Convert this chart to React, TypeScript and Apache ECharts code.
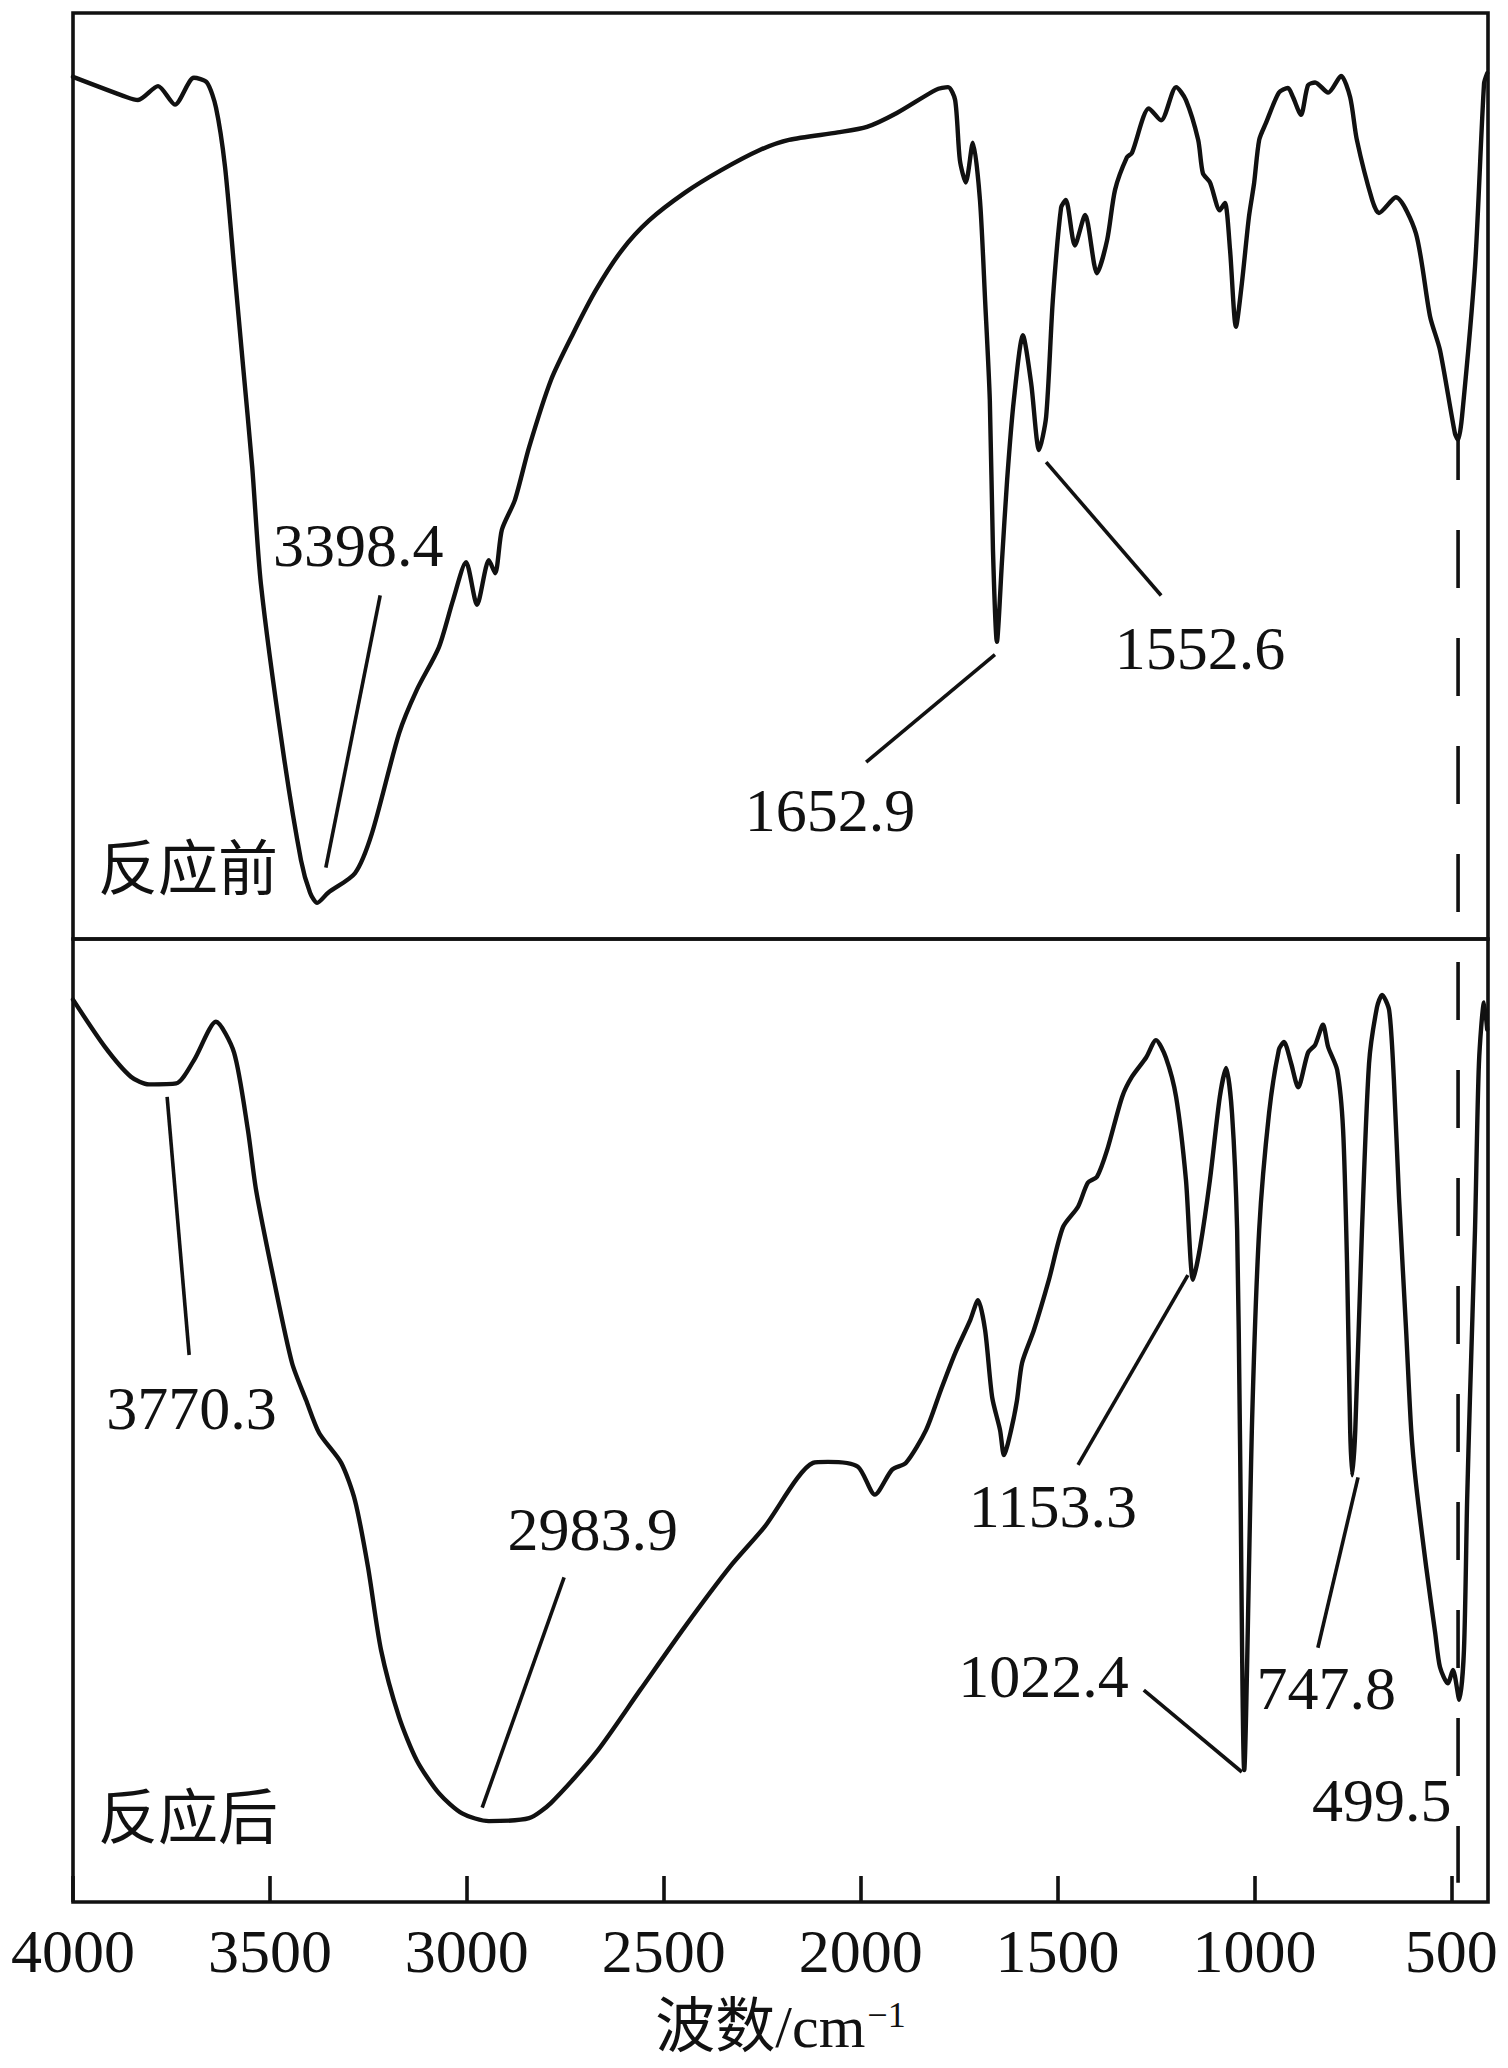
import React, { useEffect, useRef } from "react";
import * as echarts from "echarts";

// ---- axis ----
const X_TICKS = [4000, 3500, 3000, 2500, 2000, 1500, 1000, 500];
const X_MIN = 407;
const X_MAX = 4000;

// ---- 反应前 (before reaction) ----
const BEFORE_WAVENUMBER = [
  4000, 3863, 3835, 3784, 3741, 3693, 3660, 3637, 3614, 3591,
  3568, 3545, 3523, 3467, 3421, 3398, 3380, 3352, 3284, 3241,
  3172, 3127, 3071, 3035, 3002, 2974, 2944, 2928, 2911, 2878,
  2842, 2786, 2730, 2672, 2606, 2537, 2446, 2355, 2256, 2182,
  2058, 1984, 1908, 1809, 1778, 1760, 1748, 1733, 1715, 1697,
  1684, 1672, 1664, 1654, 1641, 1628, 1611, 1588, 1567, 1547,
  1529, 1512, 1491, 1479, 1456, 1430, 1400, 1374, 1354, 1324,
  1311, 1268, 1237, 1199, 1174, 1143, 1131, 1113, 1088, 1075,
  1062, 1047, 1032, 1014, 1001, 988, 971, 938, 915, 902,
  882, 864, 846, 813, 780, 757, 740, 701, 684, 641,
  590, 554, 529, 491, 483, 473, 440, 417, 409,
];
const BEFORE_TRANSMITTANCE = [
  93.1, 90.9, 90.6, 92.1, 90.1, 93.0, 92.5, 89.8, 83.4, 72.6,
  61.8, 51.0, 38.4, 20.4, 8.5, 5.0, 3.9, 5.0, 7.1, 11.4,
  22.2, 26.9, 31.5, 36.6, 40.7, 36.1, 40.9, 39.5, 44.2, 47.4,
  53.1, 60.4, 65.4, 70.1, 74.4, 77.6, 80.6, 83.0, 85.2, 86.3,
  87.1, 87.7, 89.2, 91.7, 92.0, 90.6, 84.1, 81.7, 86.0, 79.8,
  69.0, 58.2, 42.0, 32.1, 40.9, 49.6, 58.2, 65.2, 60.0, 52.8,
  56.4, 69.0, 79.0, 79.8, 74.9, 78.2, 71.9, 75.5, 80.9, 84.4,
  84.9, 89.7, 88.4, 92.0, 90.6, 86.3, 82.7, 81.7, 78.7, 79.5,
  74.4, 66.1, 70.8, 78.0, 81.6, 86.3, 88.1, 91.4, 91.9, 90.9,
  89.0, 92.2, 92.5, 91.4, 93.2, 90.9, 86.3, 79.8, 78.4, 80.1,
  76.2, 67.2, 63.6, 54.6, 53.9, 56.4, 72.6, 92.4, 93.5,
];

// ---- 反应后 (after reaction) ----
const AFTER_WAVENUMBER = [
  4000, 3919, 3853, 3807, 3738, 3693, 3637, 3591, 3556, 3535,
  3490, 3444, 3408, 3375, 3319, 3284, 3251, 3218, 3172, 3127,
  3071, 3012, 2944, 2842, 2786, 2672, 2560, 2446, 2332, 2245,
  2121, 2083, 2007, 1964, 1920, 1885, 1834, 1796, 1760, 1722,
  1702, 1684, 1666, 1646, 1636, 1618, 1603, 1590, 1560, 1522,
  1486, 1448, 1423, 1400, 1374, 1336, 1311, 1275, 1250, 1225,
  1199, 1174, 1156, 1138, 1113, 1088, 1072, 1057, 1044, 1037,
  1026, 1006, 988, 963, 938, 925, 907, 889, 864, 846,
  826, 813, 790, 775, 765, 757, 752, 744, 727, 709,
  689, 676, 658, 646, 633, 615, 602, 590, 564, 541,
  529, 509, 496, 480, 468, 460, 453, 440, 430, 417,
  409,
];
const AFTER_TRANSMITTANCE = [
  93.7, 88.8, 85.7, 84.9, 85.0, 87.4, 91.4, 88.2, 80.2, 73.9,
  64.6, 56.0, 52.1, 48.7, 45.6, 41.7, 34.8, 26.2, 19.2, 14.7,
  11.3, 9.2, 8.4, 8.7, 10.3, 15.5, 22.0, 28.6, 34.8, 38.9,
  45.6, 45.7, 45.2, 42.3, 44.9, 45.6, 49.0, 53.2, 57.0, 60.4,
  62.5, 59.4, 52.4, 49.0, 46.4, 49.0, 52.1, 56.0, 59.4, 64.6,
  70.1, 72.2, 74.7, 75.3, 78.1, 83.6, 85.7, 87.7, 89.5, 87.7,
  83.6, 75.0, 64.6, 68.0, 75.0, 83.6, 86.6, 81.9, 69.8, 49.0,
  13.7, 50.0, 69.8, 81.9, 88.5, 89.3, 87.1, 84.6, 88.2, 89.0,
  91.1, 88.8, 86.4, 80.2, 66.4, 49.0, 44.3, 49.0, 69.8, 87.1,
  92.9, 94.2, 92.6, 85.4, 73.2, 59.4, 49.0, 43.5, 34.8, 27.9,
  24.4, 22.7, 24.1, 21.0, 26.2, 41.7, 52.1, 69.8, 87.1, 93.4,
  90.6,
];

// ---- texts ----
const PANEL_TITLES = ["反应前", "反应后"];
const PEAK_TEXTS = ["3398.4", "1652.9", "1552.6", "3770.3", "2983.9", "1153.3", "1022.4", "747.8", "499.5"];
const X_AXIS_NAME = "波数/cm";
const X_AXIS_SUP = "−1";

// ---- annotation layout (in data coordinates of each panel) ----
const PEAK_PANEL = [0, 0, 0, 1, 1, 1, 1, 1, 1];
const PEAK_LABEL_AT = [
  [3276, 42.5], [2078, 13.9], [1138, 31.4],
  [3699, 51.3], [2680, 38.7], [1512, 41.1], [1536, 23.5], [818, 22.2], [677, 10.6],
];
const PEAK_LEADERS: (number[][] | null)[] = [
  [[3220, 37.1], [3358, 7.7]],
  [[1659, 30.7], [1986, 19.1]],
  [[1529, 51.5], [1237, 37.1]],
  [[3761, 83.6], [3705, 56.8]],
  [[2753, 33.7], [2961, 9.8]],
  [[1448, 45.4], [1169, 65.1]],
  [[1281, 22.0], [1032, 13.5]],
  [[839, 26.4], [737, 44.1]],
  null,
];
const TITLE_AT = [[3708, 8.2], [3708, 9.3]];
const GUIDE_WAVENUMBER = 483;
const GUIDE_FROM = 53.9; // panel 0
const GUIDE_TO = 2.0; // panel 1

const zip = (xs: number[], ys: number[]) => xs.map((x, i) => [x, ys[i]]);

export default function App() {
  const ref = useRef<HTMLDivElement>(null);

  useEffect(() => {
    document.body.style.margin = "0";
    const el = ref.current!;
    const chart = echarts.init(el, null, { renderer: "svg" });
    const ink = "#111111";
    const serif = '"Liberation Serif", "Times New Roman", serif';
    const cjk = '"Liberation Serif", "Noto Sans CJK SC", serif';

    const lineSeries = (data: number[][], idx: number) => ({
      type: "line",
      xAxisIndex: idx,
      yAxisIndex: idx,
      data,
      showSymbol: false,
      symbol: "none",
      smooth: 0.25,
      lineStyle: { color: ink, width: 4.4, join: "round", cap: "round" },
      silent: true,
    });

    chart.setOption({
      animation: false,
      backgroundColor: "#ffffff",
      grid: [
        { left: 73, top: 13, width: 1415, height: 926, show: true, borderColor: ink, borderWidth: 3.6 },
        { left: 73, top: 939, width: 1415, height: 963, show: true, borderColor: ink, borderWidth: 3.6 },
      ],
      xAxis: [
        { gridIndex: 0, type: "value", min: X_MIN, max: X_MAX, inverse: true, show: false },
        {
          gridIndex: 1,
          type: "value",
          min: X_MIN,
          max: X_MAX,
          inverse: true,
          axisLine: { show: false },
          splitLine: { show: false },
          axisTick: {
            show: true,
            inside: true,
            length: 26,
            customValues: X_TICKS,
            lineStyle: { color: ink, width: 3.6 },
          },
          axisLabel: {
            show: true,
            customValues: X_TICKS,
            margin: 18,
            fontSize: 62,
            fontFamily: serif,
            color: ink,
            formatter: (v: number) => String(v),
          },
          name: `{a|${X_AXIS_NAME}}{b|${X_AXIS_SUP}}`,
          nameLocation: "middle",
          nameGap: 95,
          nameTextStyle: {
            rich: {
              a: { fontSize: 60, fontFamily: cjk, color: ink, verticalAlign: "bottom" },
              b: { fontSize: 36, fontFamily: serif, color: ink, verticalAlign: "top", padding: [0, 0, 0, 2] },
            },
          },
        },
      ],
      yAxis: [
        { gridIndex: 0, type: "value", min: 0, max: 100, show: false },
        { gridIndex: 1, type: "value", min: 0, max: 100, show: false },
      ],
      series: [
        lineSeries(zip(BEFORE_WAVENUMBER, BEFORE_TRANSMITTANCE), 0),
        lineSeries(zip(AFTER_WAVENUMBER, AFTER_TRANSMITTANCE), 1),
      ],
    });

    const toPx = (grid: number, p: number[]) =>
      chart.convertToPixel({ gridIndex: grid } as any, p) as number[];

    const graphics: any[] = [];
    PEAK_TEXTS.forEach((t, i) => {
      const g = PEAK_PANEL[i];
      const leader = PEAK_LEADERS[i];
      if (leader) {
        const a = toPx(g, leader[0]);
        const b = toPx(g, leader[1]);
        graphics.push({
          type: "line",
          shape: { x1: a[0], y1: a[1], x2: b[0], y2: b[1] },
          style: { stroke: ink, lineWidth: 3.6, lineCap: "butt" },
          silent: true,
        });
      }
      const c = toPx(g, PEAK_LABEL_AT[i]);
      graphics.push({
        type: "text",
        x: c[0],
        y: c[1],
        style: {
          text: t,
          fontSize: 62,
          fontFamily: serif,
          fill: ink,
          align: "center",
          verticalAlign: "middle",
        },
        silent: true,
      });
    });
    PANEL_TITLES.forEach((t, g) => {
      const c = toPx(g, TITLE_AT[g]);
      graphics.push({
        type: "text",
        x: c[0],
        y: c[1],
        style: {
          text: t,
          fontSize: 60,
          fontFamily: '"Noto Sans CJK SC", sans-serif',
          fill: ink,
          align: "center",
          verticalAlign: "middle",
        },
        silent: true,
      });
    });
    const top = toPx(0, [GUIDE_WAVENUMBER, GUIDE_FROM]);
    const bottom = toPx(1, [GUIDE_WAVENUMBER, GUIDE_TO]);
    graphics.push({
      type: "line",
      shape: { x1: top[0], y1: top[1], x2: bottom[0], y2: bottom[1] },
      style: { stroke: ink, lineWidth: 3.6, lineDash: [58, 50], lineDashOffset: 18 },
      silent: true,
    });

    chart.setOption({ graphic: graphics });

    return () => {
      chart.dispose();
    };
  }, []);

  return <div ref={ref} style={{ width: 1508, height: 2068, background: "#fff" }} />;
}
